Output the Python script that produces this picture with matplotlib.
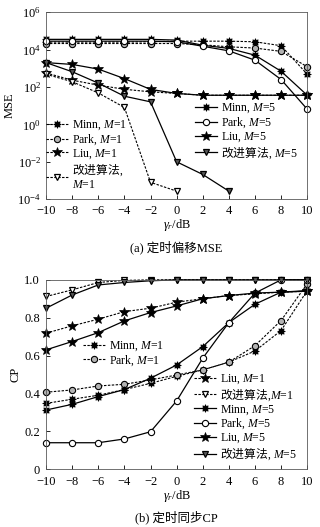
import matplotlib
matplotlib.use('Agg')
import matplotlib.pyplot as plt
from matplotlib.ticker import FixedLocator, LogFormatterMathtext, NullLocator

plt.rcParams['font.family'] = ['Liberation Serif', 'Noto Sans CJK SC']
plt.rcParams['font.size'] = 8.5
plt.rcParams['mathtext.fontset'] = 'custom'
plt.rcParams['mathtext.rm'] = 'Liberation Serif'
plt.rcParams['mathtext.it'] = 'Liberation Serif:italic'
plt.rcParams['mathtext.sf'] = 'Noto Sans CJK SC'
plt.rcParams['axes.unicode_minus'] = True

snr = [-10, -8, -6, -4, -2, 0, 2, 4, 6, 8, 10]

# (a) timing offset MSE
mse_minn1 = [2.5e4, 2.5e4, 2.5e4, 2.5e4, 2.6e4, 2.8e4, 2.8e4, 2.8e4, 2.6e4, 1.6e4, 480]
mse_park1 = [2.1e4, 2.1e4, 2.1e4, 2.1e4, 2.1e4, 2.1e4, 1.8e4, 1.4e4, 1.2e4, 8.0e3, 1.2e3]
mse_liu1 = [560, 230, 125, 75, 55, 45, 36, 36, 36, 36, 36]
mse_imp1 = [480, 190, 48, 8, 8e-4, 2.7e-4]
mse_minn5 = [3.5e4, 3.5e4, 3.5e4, 3.5e4, 3.5e4, 3.2e4, 1.7e4, 1.15e4, 5.0e3, 690, 36]
mse_park5 = [2.8e4, 2.8e4, 2.8e4, 2.8e4, 2.8e4, 2.6e4, 1.5e4, 8.5e3, 2.7e3, 250, 6.5]
mse_liu5 = [2.0e3, 1.6e3, 900, 280, 74, 45, 36, 36, 36, 36, 36]
mse_imp5 = [2.0e3, 650, 160, 32, 16, 1e-2, 2.1e-3, 2.7e-4]

# (b) timing sync CP
cp_minn1 = [0.347, 0.369, 0.39, 0.42, 0.453, 0.49, 0.524, 0.565, 0.624, 0.732, 0.943]
cp_park1 = [0.406, 0.418, 0.439, 0.448, 0.471, 0.497, 0.524, 0.565, 0.652, 0.785, 0.979]
cp_liu1 = [0.718, 0.757, 0.792, 0.832, 0.85, 0.882, 0.9, 0.917, 0.926, 0.935, 0.94]
cp_imp1 = [0.912, 0.947, 0.986, 0.997, 1, 1, 1, 1, 1, 1, 1]
cp_minn5 = [0.312, 0.342, 0.383, 0.42, 0.48, 0.55, 0.647, 0.774, 0.871, 0.935, 0.943]
cp_park5 = [0.139, 0.139, 0.139, 0.159, 0.197, 0.36, 0.586, 0.774, 0.93, 1.0, 1.0]
cp_liu5 = [0.63, 0.674, 0.721, 0.783, 0.827, 0.862, 0.9, 0.917, 0.93, 0.935, 0.94]
cp_imp5 = [0.85, 0.92, 0.973, 0.986, 0.995, 1, 1, 1, 1, 1, 1]

lab_minn1 = 'Minn, $M$=1'
lab_park1 = 'Park, $M$=1'
lab_liu1 = 'Liu, $M$=1'
lab_imp1 = r'$\mathsf{改进算法}$,$M$=1'
lab_minn5 = 'Minn, $M$=5'
lab_park5 = 'Park, $M$=5'
lab_liu5 = 'Liu, $M$=5'
lab_imp5 = r'$\mathsf{改进算法}$, $M$=5'

dash = (0, (2.2, 1.3))
minn_mk = (8, 1, 0)


def style(kind, m1):
    ls = dash if m1 else '-'
    lw = 0.8 if m1 else 0.9
    d = dict(color='k', ls=ls, lw=lw, clip_on=False)
    if kind == 'minn':
        d.update(marker=minn_mk, ms=5.5, mfc='k', mec='k', mew=0.6)
    elif kind == 'park':
        d.update(marker='o', ms=4.5, mfc='0.7' if m1 else 'w', mec='k', mew=0.8)
    elif kind == 'liu':
        d.update(marker='*', ms=7, mfc='k', mec='k', mew=0.5)
    else:
        d.update(marker='v', ms=5, mfc='w' if m1 else '0.35', mec='k', mew=0.9)
    return d


def setup(ax, xpad=4, ypad=3.5):
    ax.set_xlim(-10, 10)
    ax.set_xticks(snr)
    ax.tick_params(direction='in', length=3, width=0.6, top=False, right=False, labelsize=9)
    ax.tick_params(axis='x', pad=xpad)
    ax.tick_params(axis='y', pad=ypad)
    for s in ax.spines.values():
        s.set_linewidth(0.6)
        s.set_color('0.35')


leg_kw = dict(frameon=False, fontsize=8.5, labelspacing=0.02, handlelength=1.9,
              handletextpad=0.3, borderpad=0, borderaxespad=0)

fig = plt.figure(figsize=(3.2, 5.27), dpi=100)

# ---- (a) ----
ax1 = fig.add_axes([0.144, 0.622, 0.816, 0.355])
h_m1, = ax1.semilogy(snr, mse_minn1, label=lab_minn1, **style('minn', True))
h_p1, = ax1.semilogy(snr, mse_park1, label=lab_park1, **style('park', True))
h_l1, = ax1.semilogy(snr, mse_liu1, label=lab_liu1, **style('liu', True))
h_i1, = ax1.semilogy(snr[:len(mse_imp1)], mse_imp1, label=r'$\mathsf{改进算法}$,' + '\n$M$=1', **style('imp', True))
h_m5, = ax1.semilogy(snr, mse_minn5, label=lab_minn5, **style('minn', False))
h_p5, = ax1.semilogy(snr, mse_park5, label=lab_park5, **style('park', False))
h_l5, = ax1.semilogy(snr, mse_liu5, label=lab_liu5, **style('liu', False))
h_i5, = ax1.semilogy(snr[:len(mse_imp5)], mse_imp5, label=lab_imp5, **style('imp', False))
setup(ax1)
ax1.set_ylim(1e-4, 1e6)
ax1.yaxis.set_major_locator(FixedLocator([1e-4, 1e-2, 1, 1e2, 1e4, 1e6]))
ax1.yaxis.set_major_formatter(LogFormatterMathtext())
ax1.yaxis.set_minor_locator(NullLocator())
ax1.set_ylabel('MSE', fontsize=9, labelpad=1)
ax1.set_xlabel(r'$\gamma_r$/dB', fontsize=9, labelpad=0)
leg_a = ax1.legend(handles=[h_m1, h_p1, h_l1, h_i1], loc='upper left',
                   bbox_to_anchor=(0.0, 0.43), **leg_kw)
ax1.add_artist(leg_a)
ax1.legend(handles=[h_m5, h_p5, h_l5, h_i5], loc='upper left',
           bbox_to_anchor=(0.57, 0.52), **leg_kw)
fig.text(0.552, 0.531, '(a) 定时偏移MSE', ha='center', va='center', fontsize=9)

# ---- (b) ----
ax2 = fig.add_axes([0.144, 0.110, 0.816, 0.359])
g_m1, = ax2.plot(snr, cp_minn1, label=lab_minn1, **style('minn', True))
g_p1, = ax2.plot(snr, cp_park1, label=lab_park1, **style('park', True))
g_l1, = ax2.plot(snr, cp_liu1, label=lab_liu1, **style('liu', True))
g_i1, = ax2.plot(snr, cp_imp1, label=lab_imp1, **style('imp', True))
g_m5, = ax2.plot(snr, cp_minn5, label=lab_minn5, **style('minn', False))
g_p5, = ax2.plot(snr, cp_park5, label=lab_park5, **style('park', False))
g_l5, = ax2.plot(snr, cp_liu5, label=lab_liu5, **style('liu', False))
g_i5, = ax2.plot(snr, cp_imp5, label=lab_imp5, **style('imp', False))
setup(ax2, xpad=5, ypad=4.5)
ax2.set_ylim(0, 1.0)
ax2.set_yticks([0, 0.2, 0.4, 0.6, 0.8, 1.0])
ax2.set_yticklabels(['0', '0.2', '0.4', '0.6', '0.8', '1.0'])
ax2.set_ylabel('CP', fontsize=9, labelpad=2)
ax2.set_xlabel(r'$\gamma_r$/dB', fontsize=9, labelpad=0)
leg_b = ax2.legend(handles=[g_m1, g_p1], loc='upper left',
                   bbox_to_anchor=(0.14, 0.685), **leg_kw)
ax2.add_artist(leg_b)
ax2.legend(handles=[g_l1, g_i1, g_m5, g_p5, g_l5, g_i5], loc='upper left',
           bbox_to_anchor=(0.565, 0.51), **leg_kw)
fig.text(0.552, 0.019, '(b) 定时同步CP', ha='center', va='center', fontsize=9)

fig.savefig('out.png', dpi=100, facecolor='white')
